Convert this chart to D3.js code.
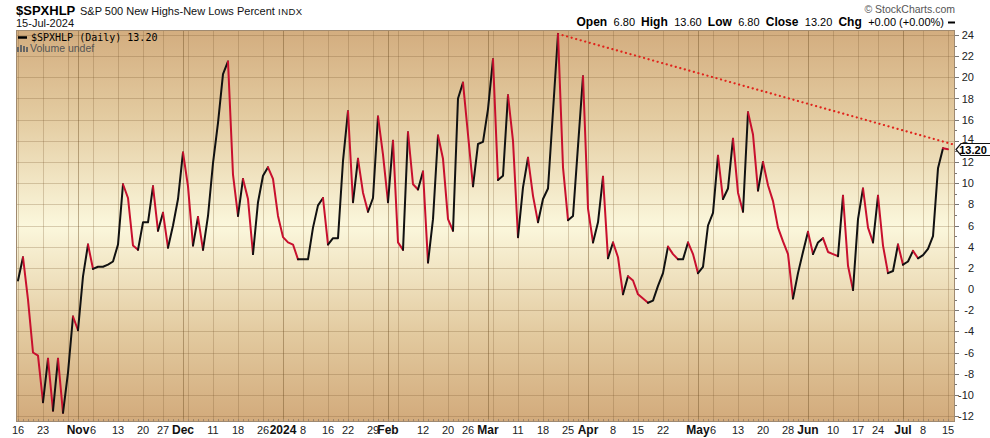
<!DOCTYPE html>
<html lang="en"><head><meta charset="UTF-8">
<title>$SPXHLP S&amp;P 500 New Highs-New Lows Percent</title>
<script src="https://d3js.org/d3.v7.min.js"></script>
<style>
  body { margin: 0; background: #fff; }
  svg text { font-family: "Liberation Sans", Arial, sans-serif; }
</style>
</head>
<body>
<script>
// trading calendar (weekdays minus exchange holidays)
var startDate = "2023-10-16", endDate = "2024-07-15";
var holidays = ["2023-11-23","2023-12-25","2024-01-01","2024-01-15","2024-02-19",
                "2024-03-29","2024-05-27","2024-06-19","2024-07-04"];

// daily closes
var values = [
  0.8, 3.0, -1.0, -6.0, -6.3, -10.7, -6.6, -11.5, -6.6, -11.7,
  -7.9, -2.6, -3.9, 1.2, 4.2, 1.9, 2.1, 2.1, 2.3, 2.6,
  4.2, 9.9, 8.6, 4.1, 3.7, 6.3, 6.3, 9.7, 5.5, 7.2,
  3.9, 6.0, 8.5, 12.9, 9.7, 4.1, 6.8, 3.7, 6.9, 11.9,
  15.7, 20.3, 21.5, 10.8, 6.9, 10.4, 8.5, 3.3, 8.2, 10.7,
  11.5, 10.4, 6.9, 4.9, 4.4, 4.2, 2.8, 2.8, 2.8, 5.8,
  7.9, 8.6, 4.2, 4.8, 4.8, 12.1, 16.8, 8.2, 12.3, 9.1,
  7.3, 8.6, 16.3, 12.7, 8.2, 14.0, 4.4, 3.7, 14.8, 9.9,
  9.4, 11.1, 2.5, 6.6, 14.5, 12.3, 6.6, 5.5, 18.0, 19.5,
  14.6, 9.7, 13.7, 13.9, 17.0, 21.7, 10.3, 10.7, 18.3, 14.0,
  4.9, 9.6, 12.4, 8.8, 6.3, 8.5, 9.5, 16.8, 24.1, 11.5,
  6.5, 6.9, 13.5, 20.1, 7.6, 4.4, 6.3, 10.6, 2.9, 4.4,
  3.0, -0.5, 1.2, 0.8, -0.5, -0.9, -1.3, -1.1, 0.3, 1.5,
  4.0, 3.3, 2.8, 2.8, 4.4, 3.3, 1.5, 2.1, 6.0, 7.2,
  12.6, 8.5, 9.5, 14.2, 9.1, 7.3, 16.7, 14.6, 9.3, 12.0,
  9.8, 8.3, 5.8, 4.5, 3.3, -0.9, 1.5, 3.5, 5.4, 3.3,
  4.4, 4.8, 3.5, 3.3, 3.1, 8.8, 2.2, -0.1, 6.6, 9.5,
  5.8, 4.4, 8.8, 4.1, 1.5, 1.7, 4.2, 2.3, 2.6, 3.6,
  2.9, 3.2, 3.8, 5.0, 11.4, 13.3, 13.2
];

// trend line: from the March high to the latest bar, carried to the edge
var trendDates = ["2024-03-21", "2024-07-15"];
var trendValues = [24.1, 13.8];

var weekTicks = ["2023-10-16","2023-10-23","2023-10-30","2023-11-06","2023-11-13","2023-11-20",
  "2023-11-27","2023-12-04","2023-12-11","2023-12-18","2023-12-26","2024-01-08","2024-01-16",
  "2024-01-22","2024-01-29","2024-02-05","2024-02-12","2024-02-20","2024-02-26","2024-03-04",
  "2024-03-11","2024-03-18","2024-03-25","2024-04-08","2024-04-15","2024-04-22","2024-04-29",
  "2024-05-06","2024-05-13","2024-05-20","2024-05-28","2024-06-10","2024-06-17","2024-06-24",
  "2024-07-08","2024-07-15"];
var weekLabels = ["16","23","","6","13","20","27","","11","18","26","8","16","22","29","",
  "12","20","26","","11","18","25","8","15","22","","6","13","20","28","10","17","24","8","15"];
var monthTicks = ["2023-11-01","2023-12-01","2024-01-02","2024-02-01","2024-03-01",
  "2024-04-01","2024-05-01","2024-06-03","2024-07-01"];
var monthLabels = ["Nov","Dec","2024","Feb","Mar","Apr","May","Jun","Jul"];
var yTicks = d3.range(-12, 25, 2);

var w = 990, h = 438;
var plotL = 16, plotR = 955, plotT = 30, plotB = 422;

var fmt = d3.timeFormat("%Y-%m-%d");
var dates = [];
d3.timeDay.range(new Date(startDate + "T00:00"), d3.timeDay.offset(new Date(endDate + "T00:00"), 1))
  .forEach(function(d) {
    var wd = d.getDay();
    if (wd > 0 && wd < 6 && holidays.indexOf(fmt(d)) < 0) dates.push(fmt(d));
  });
var idx = new Map(dates.map(function(d, i) { return [d, i]; }));

var x = d3.scaleLinear().domain([0, dates.length - 1]).range([18, 948]);
var y = d3.scaleLinear().domain([-12, 24]).range([416, 35]);

var svg = d3.select("body").append("svg").attr("width", w).attr("height", h);

var defs = svg.append("defs");
var grad = defs.append("linearGradient").attr("id", "bg")
  .attr("x1", 0).attr("y1", 0).attr("x2", 0).attr("y2", 1);
grad.append("stop").attr("offset", "0%").attr("stop-color", "#d3ad7f");
grad.append("stop").attr("offset", "22%").attr("stop-color", "#e3cba0");
grad.append("stop").attr("offset", "50%").attr("stop-color", "#fbf7dc");
grad.append("stop").attr("offset", "78%").attr("stop-color", "#e2c99e");
grad.append("stop").attr("offset", "100%").attr("stop-color", "#d2aa7b");

svg.append("rect").attr("x", plotL).attr("y", plotT)
  .attr("width", plotR - plotL).attr("height", plotB - plotT)
  .attr("fill", "url(#bg)");

// grid
var grid = svg.append("g");
grid.selectAll(".hg").data(yTicks).enter().append("line")
  .attr("x1", plotL).attr("x2", plotR)
  .attr("y1", function(d) { return Math.round(y(d)) + 0.5; })
  .attr("y2", function(d) { return Math.round(y(d)) + 0.5; })
  .attr("stroke", "#7a5a30").attr("stroke-opacity", 0.27);
grid.selectAll(".wg").data(weekTicks).enter().append("line")
  .attr("x1", function(d) { return x(idx.get(d)) + 0.5; })
  .attr("x2", function(d) { return x(idx.get(d)) + 0.5; })
  .attr("y1", plotT).attr("y2", plotB)
  .attr("stroke", "#7a5a30").attr("stroke-opacity", 0.27);
grid.selectAll(".mg").data(monthTicks).enter().append("line")
  .attr("x1", function(d) { return x(idx.get(d)) + 0.5; })
  .attr("x2", function(d) { return x(idx.get(d)) + 0.5; })
  .attr("y1", plotT).attr("y2", plotB)
  .attr("stroke", "#6a4a20").attr("stroke-opacity", 0.42);

// frame
svg.append("rect").attr("x", plotL + 0.5).attr("y", plotT + 0.5)
  .attr("width", plotR - plotL - 1).attr("height", plotB - plotT - 1)
  .attr("fill", "none").attr("stroke", "#a08a70");

// daily ticks on bottom edge
svg.append("g").selectAll("line").data(dates).enter().append("line")
  .attr("x1", function(d, i) { return x(i) + 0.5; }).attr("x2", function(d, i) { return x(i) + 0.5; })
  .attr("y1", plotB - 3).attr("y2", plotB)
  .attr("stroke", "#9a8670").attr("stroke-width", 1);

// right axis ticks (every unit) and labels
svg.append("g").selectAll("line").data(d3.range(-12, 25, 1)).enter().append("line")
  .attr("x1", plotR).attr("x2", function(d) { return d % 2 === 0 ? plotR + 4 : plotR + 2; })
  .attr("y1", function(d) { return Math.round(y(d)) + 0.5; })
  .attr("y2", function(d) { return Math.round(y(d)) + 0.5; })
  .attr("stroke", "#777");
svg.append("g").selectAll("text").data(yTicks).enter().append("text")
  .attr("x", 974).attr("y", function(d) { return y(d) + (d === 14 ? 2 : 4); })
  .attr("text-anchor", "end").attr("font-size", 11).attr("fill", "#222")
  .text(function(d) { return d; });

// x labels
svg.append("g").selectAll("text").data(weekTicks).enter().append("text")
  .attr("x", function(d) { return x(idx.get(d)); }).attr("y", 434)
  .attr("text-anchor", "middle").attr("font-size", 11).attr("fill", "#222")
  .text(function(d, i) { return weekLabels[i]; });
svg.append("g").selectAll("text").data(monthTicks).enter().append("text")
  .attr("x", function(d) { return x(idx.get(d)); }).attr("y", 434)
  .attr("text-anchor", "middle").attr("font-size", 12).attr("font-weight", "bold").attr("fill", "#111")
  .text(function(d, i) { return monthLabels[i]; });

// trend line
var tx0 = x(idx.get(trendDates[0])), tx1 = x(idx.get(trendDates[1]));
var slope = (trendValues[1] - trendValues[0]) / (tx1 - tx0);
svg.append("line")
  .attr("x1", tx0).attr("y1", y(trendValues[0]))
  .attr("x2", plotR).attr("y2", y(trendValues[0] + slope * (plotR - tx0)))
  .attr("stroke", "#e0241c").attr("stroke-width", 2.2)
  .attr("stroke-dasharray", "0.1,4.6").attr("stroke-linecap", "round");

// price line: black on up days, red on down days
var runs = [];
for (var i = 1; i < values.length; i++) {
  var c = values[i] >= values[i - 1] ? "#111" : "#c8102e";
  if (runs.length && runs[runs.length - 1].c === c) runs[runs.length - 1].pts.push(i);
  else runs.push({ c: c, pts: [i - 1, i] });
}
var line = d3.line().x(function(i) { return x(i); }).y(function(i) { return y(values[i]); });
svg.append("g").selectAll("path").data(runs).enter().append("path")
  .attr("d", function(r) { return line(r.pts); })
  .attr("fill", "none").attr("stroke", function(r) { return r.c; })
  .attr("stroke-width", 2).attr("stroke-linejoin", "round").attr("stroke-linecap", "round");

// last value tag
var last = values[values.length - 1], ly = Math.round(y(last)) + 0.5;
var tag = svg.append("g");
tag.append("path")
  .attr("d", "M" + (plotR + 1) + "," + ly + " l5,-6 h30 v12 h-30 z")
  .attr("fill", "#fff").attr("stroke", "#111").attr("stroke-width", 1.2);
tag.append("text").attr("x", 973).attr("y", ly + 4.5).attr("text-anchor", "middle")
  .attr("font-size", 11).attr("font-weight", "bold").attr("fill", "#000").text(last.toFixed(2));

// header
svg.append("text").attr("x", 16).attr("y", 15).attr("font-size", 13).attr("font-weight", "bold")
  .text("$SPXHLP");
svg.append("text").attr("x", 80).attr("y", 15).attr("font-size", 11).attr("fill", "#111")
  .text("S&P 500 New Highs-New Lows Percent");
svg.append("text").attr("x", 278).attr("y", 15).attr("font-size", 9.5).attr("fill", "#111")
  .attr("letter-spacing", 0.5).text("INDX");
svg.append("text").attr("x", 16).attr("y", 27).attr("font-size", 11).attr("fill", "#111")
  .text("15-Jul-2024");
svg.append("text").attr("x", 955).attr("y", 13).attr("text-anchor", "end")
  .attr("font-size", 10.5).attr("fill", "#555").text("\u00a9 StockCharts.com");

var quote = svg.append("text").attr("x", 944).attr("y", 26).attr("text-anchor", "end").attr("font-size", 11);
[["Open ", " 6.80  "], ["High ", " 13.60  "], ["Low ", " 6.80  "], ["Close ", " 13.20  "], ["Chg ", " +0.00 (+0.00%)"]]
  .forEach(function(p) {
    quote.append("tspan").attr("font-weight", "bold").attr("font-size", 12).text(p[0]);
    quote.append("tspan").attr("xml:space", "preserve").text(p[1]);
  });
svg.append("line").attr("x1", 948).attr("x2", 955).attr("y1", 22.5).attr("y2", 22.5)
  .attr("stroke", "#000").attr("stroke-width", 2);

// legend inside plot
svg.append("line").attr("x1", 18).attr("x2", 27).attr("y1", 37.5).attr("y2", 37.5)
  .attr("stroke", "#000").attr("stroke-width", 2.5);
svg.append("text").attr("x", 31).attr("y", 41).attr("font-size", 10)
  .attr("style", "font-family:'DejaVu Sans Mono',monospace").attr("fill", "#000")
  .text("$SPXHLP (Daily) 13.20");
var vi = svg.append("g").attr("fill", "#666");
[[17, 47, 2, 5], [20, 45, 2, 7], [23, 46, 2, 6], [26, 47, 2, 5]].forEach(function(r) {
  vi.append("rect").attr("x", r[0]).attr("y", r[1]).attr("width", r[2]).attr("height", r[3]);
});
svg.append("text").attr("x", 30).attr("y", 52).attr("font-size", 10.5).attr("fill", "#555")
  .text("Volume undef");
</script>
</body></html>
